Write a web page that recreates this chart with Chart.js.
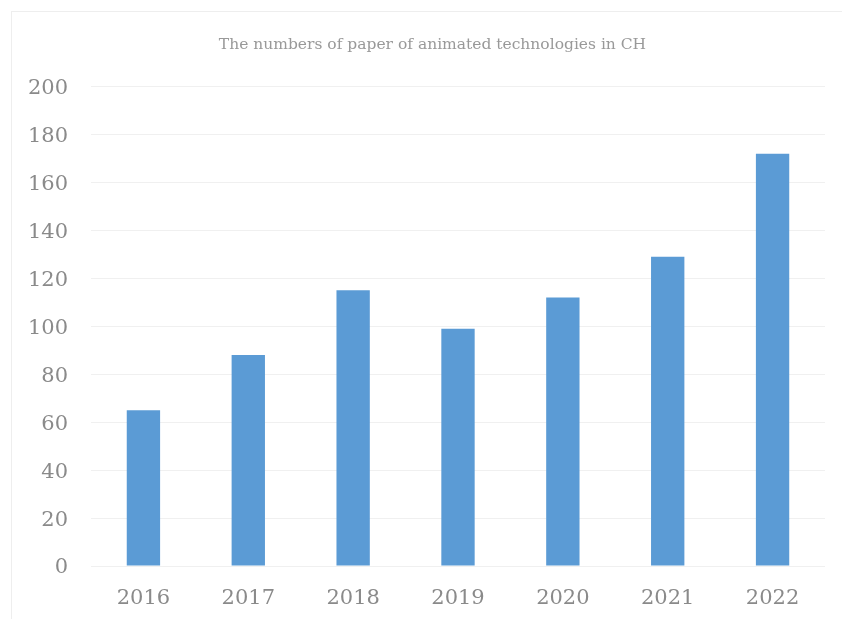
<!DOCTYPE html>
<html><head><meta charset="utf-8">
<script src="https://cdn.jsdelivr.net/npm/chart.js@4.4.0/dist/chart.umd.min.js"></script>
<style>
html,body{margin:0;padding:0;background:#fff;overflow:hidden;width:842px;height:619px;}
#frame{position:absolute;left:11px;top:11px;width:2000px;height:2000px;border-top:1px solid #eeeeee;border-left:1px solid #eeeeee;}
#wrap{position:absolute;left:0;top:0;width:842px;height:619px;}
</style></head>
<body>
<div id="frame"></div>
<div id="wrap"><canvas id="c" width="842" height="619"></canvas></div>
<script>
const categories = ["2016","2017","2018","2019","2020","2021","2022"];
const paperCounts = [65, 88, 115, 99, 112, 129, 172];
const yTicks = [0,20,40,60,80,100,120,140,160,180,200];
const chartTitle = "The numbers of paper of animated technologies in CH";

const textColor = "#8a8a8a";
const shiftTitle = {
  id: "shiftTitle",
  afterLayout(chart) {
    const t = chart.titleBlock;
    if (t) { t.left += 40; t.width = t.right - t.left; }
  }
};
new Chart(document.getElementById("c"), {
  type: "bar",
  data: {
    labels: categories,
    datasets: [{
      data: paperCounts,
      backgroundColor: "#5b9bd5",
      borderWidth: 0,
      categoryPercentage: 1,
      barPercentage: 0.318
    }]
  },
  plugins: [shiftTitle],
  options: {
    responsive: false,
    animation: false,
    devicePixelRatio: 1,
    layout: { padding: { left: 0, right: 17, top: 0, bottom: 0 } },
    plugins: {
      legend: { display: false },
      tooltip: { enabled: false },
      title: {
        display: true,
        text: chartTitle,
        color: "#999999",
        font: { family: "DejaVu Serif", size: 15.5, weight: "normal" },
        padding: { top: 36, bottom: 32 }
      }
    },
    scales: {
      x: {
        grid: { display: false, drawTicks: false },
        border: { display: false },
        ticks: { color: textColor, font: { family: "DejaVu Serif", size: 21 }, padding: 20 },
        afterFit: (s) => { s.height = 53; }
      },
      y: {
        min: 0, max: 200,
        afterBuildTicks: (s) => { s.ticks = yTicks.map(v => ({ value: v })); },
        grid: { color: "#f0f0f0", lineWidth: 1, drawTicks: false },
        border: { display: false },
        ticks: { color: textColor, font: { family: "DejaVu Serif", size: 21 }, padding: 23, labelOffset: 2 },
        afterFit: (s) => { s.width = 91; }
      }
    }
  }
});
</script>
</body></html>
